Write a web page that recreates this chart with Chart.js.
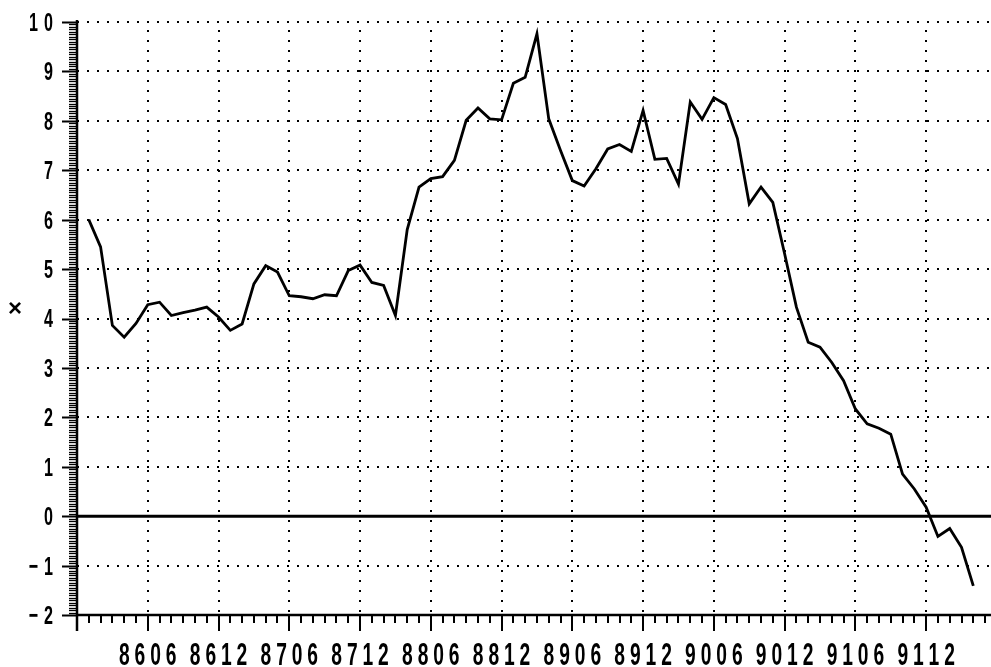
<!DOCTYPE html>
<html>
<head>
<meta charset="utf-8">
<script src="https://cdn.jsdelivr.net/npm/chart.js@4.4.1/dist/chart.umd.min.js"></script>
<style>
    html, body { margin: 0; padding: 0; background: #fff; }
    canvas { display: block; }
</style>
</head>
<body>
<canvas id="chart" width="991" height="667"></canvas>
<script>
const months = [
    '8601', '8602', '8603', '8604', '8605', '8606', '8607', '8608', '8609', '8610', '8611', '8612',
    '8701', '8702', '8703', '8704', '8705', '8706', '8707', '8708', '8709', '8710', '8711', '8712',
    '8801', '8802', '8803', '8804', '8805', '8806', '8807', '8808', '8809', '8810', '8811', '8812',
    '8901', '8902', '8903', '8904', '8905', '8906', '8907', '8908', '8909', '8910', '8911', '8912',
    '9001', '9002', '9003', '9004', '9005', '9006', '9007', '9008', '9009', '9010', '9011', '9012',
    '9101', '9102', '9103', '9104', '9105', '9106', '9107', '9108', '9109', '9110', '9111', '9112',
    '9201', '9202', '9203', '9204'
];

const values = [
    6.00, 5.45, 3.86, 3.62, 3.90, 4.28, 4.33, 4.06, 4.12, 4.17, 4.23, 4.03,
    3.76, 3.89, 4.70, 5.07, 4.94, 4.46, 4.44, 4.40, 4.48, 4.46, 4.97, 5.08,
    4.73, 4.67, 4.06, 5.80, 6.66, 6.83, 6.87, 7.20, 8.01, 8.26, 8.04, 8.02,
    8.76, 8.88, 9.76, 8.04, 7.40, 6.79, 6.68, 7.03, 7.43, 7.52, 7.38, 8.21,
    7.22, 7.24, 6.72, 8.38, 8.03, 8.47, 8.33, 7.64, 6.32, 6.66, 6.35, 5.31,
    4.23, 3.52, 3.42, 3.11, 2.74, 2.17, 1.87, 1.78, 1.66, 0.85, 0.55, 0.18,
    -0.41, -0.25, -0.63, -1.41
];

const xTickLabels = ['8606', '8612', '8706', '8712', '8806', '8812', '8906', '8912', '9006', '9012', '9106', '9112'];
const yTickValues = [-2, -1, 0, 1, 2, 3, 4, 5, 6, 7, 8, 9, 10];
const yAxisTitle = '×';

// axis starts one month before the first observation (8512)
const monthPos = (label) => months.indexOf(label) + 1;

const FONT = "'Liberation Sans', Arial, sans-serif";
const SQUEEZE = 0.62;

// condensed, widely tracked digits like the original plotter font
function drawSpaced(ctx, text, x, y, size, pitch, align) {
    const chars = Array.from(text);
    const n = chars.length;
    ctx.font = 'bold ' + size + 'px ' + FONT;
    const half = 0.556 * size * SQUEEZE / 2;
    let first;
    if (align === 'right') {
        first = x - half - (n - 1) * pitch;
    } else {
        first = x - (n - 1) * pitch / 2;
    }
    const base = y + 0.69 * size / 2;
    chars.forEach((ch, k) => {
        ctx.save();
        ctx.translate(first + k * pitch, base);
        ctx.scale(SQUEEZE, 1);
        ctx.textAlign = 'center';
        ctx.textBaseline = 'alphabetic';
        ctx.fillText(ch, 0, 0);
        ctx.restore();
    });
}

const axesPlugin = {
    id: 'axesPlugin',
    beforeDatasetsDraw(chart) {
        const ctx = chart.ctx;
        const { left, right, top, bottom } = chart.chartArea;
        const x = chart.scales.x;
        const y = chart.scales.y;
        ctx.save();
        ctx.strokeStyle = '#000';
        ctx.fillStyle = '#000';
        ctx.lineCap = 'butt';

        // minor y ticks every 0.05, major at integers
        for (let i = -40; i <= 200; i++) {
            const py = Math.round(y.getPixelForValue(i / 20)) + 0.5;
            const major = i % 20 === 0;
            ctx.lineWidth = major ? 2 : 1.3;
            ctx.beginPath();
            ctx.moveTo(left - (major ? 15 : 8), py);
            ctx.lineTo(left, py);
            ctx.stroke();
        }

        // x ticks every month, longer every 6 months
        for (let m = 1; m <= 77; m++) {
            const px = Math.round(x.getPixelForValue(m));
            const major = m % 6 === 0;
            ctx.lineWidth = 2;
            ctx.beginPath();
            ctx.moveTo(px, bottom);
            ctx.lineTo(px, bottom + (major ? 16 : 8));
            ctx.stroke();
        }

        // axis lines
        ctx.lineWidth = 2.5;
        ctx.beginPath();
        ctx.moveTo(left, top - 2);
        ctx.lineTo(left, bottom + 16);
        ctx.moveTo(left, bottom);
        ctx.lineTo(right, bottom);
        ctx.stroke();

        // zero line
        const zy = y.getPixelForValue(0);
        ctx.lineWidth = 3;
        ctx.beginPath();
        ctx.moveTo(left, zy);
        ctx.lineTo(right, zy);
        ctx.stroke();

        // tick labels
        yTickValues.forEach(v => {
            const txt = v < 0 ? '\u2212' + Math.abs(v) : String(v);
            drawSpaced(ctx, txt, 53, y.getPixelForValue(v), 26, 15, 'right');
        });
        xTickLabels.forEach(l => {
            drawSpaced(ctx, l, x.getPixelForValue(monthPos(l)), 654, 31, 15.6, 'center');
        });

        ctx.font = 'bold 24px ' + FONT;
        ctx.textAlign = 'center';
        ctx.textBaseline = 'middle';
        ctx.fillText(yAxisTitle, 15, 309);
        ctx.restore();
    }
};

new Chart(document.getElementById('chart'), {
    type: 'line',
    data: {
        datasets: [{
            data: values.map((v, i) => ({ x: monthPos(months[i]), y: v })),
            borderColor: '#000',
            borderWidth: 2.8,
            pointRadius: 0,
            tension: 0,
            fill: false
        }]
    },
    options: {
        responsive: false,
        animation: false,
        devicePixelRatio: 1,
        layout: { padding: { top: 22, right: 0, left: 0, bottom: 0 } },
        plugins: {
            legend: { display: false },
            tooltip: { enabled: false }
        },
        scales: {
            x: {
                type: 'linear',
                min: 0,
                max: 77.5,
                afterFit(scale) {
                    scale.height = 52;
                    scale.paddingLeft = 0;
                    scale.paddingRight = 0;
                },
                afterBuildTicks(scale) {
                    scale.ticks = xTickLabels.map(l => ({ value: monthPos(l) }));
                },
                ticks: { display: false },
                grid: {
                    drawTicks: false,
                    color: '#000',
                    lineWidth: 2
                },
                border: { display: false, dash: [2, 8], dashOffset: 2 }
            },
            y: {
                type: 'linear',
                min: -2,
                max: 10,
                afterFit(scale) {
                    scale.width = 77;
                    scale.paddingTop = 0;
                    scale.paddingBottom = 0;
                },
                afterBuildTicks(scale) {
                    scale.ticks = yTickValues.map(v => ({ value: v }));
                },
                ticks: { display: false },
                grid: {
                    drawTicks: false,
                    lineWidth: 2,
                    color: (c) => (c.tick && (c.tick.value === 0 || c.tick.value === -2)) ? 'rgba(0,0,0,0)' : '#000'
                },
                border: { display: false, dash: [2, 8] }
            }
        }
    },
    plugins: [axesPlugin]
});
</script>
</body>
</html>
